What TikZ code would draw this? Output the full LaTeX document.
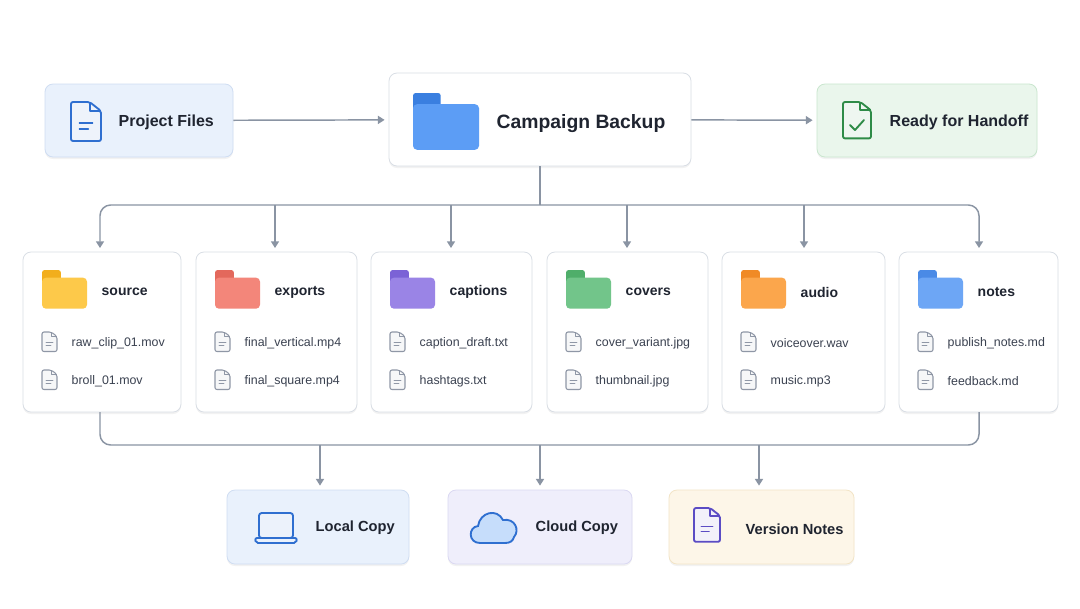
\documentclass[tikz,border=0pt]{standalone}
\usepackage{fontspec}
\setmainfont{Liberation Sans}
\usetikzlibrary{fit,shadows,arrows.meta}
\definecolor{line}{HTML}{8A94A3}
\definecolor{bord}{HTML}{D9DEE5}
\definecolor{txt}{HTML}{1F2430}
\definecolor{ftxt}{HTML}{3A4150}
\definecolor{gic}{HTML}{8F97A6}
\definecolor{bico}{HTML}{2F6FD0}
\definecolor{pfbg}{HTML}{E9F1FC}
\definecolor{pfbd}{HTML}{CFDDF2}
\definecolor{rhbg}{HTML}{EAF6EC}
\definecolor{rhbd}{HTML}{C9E6CE}
\definecolor{gico}{HTML}{2E8B47}
\definecolor{ccbg}{HTML}{EFEEFB}
\definecolor{ccbd}{HTML}{DAD8F2}
\definecolor{vnbg}{HTML}{FDF6E8}
\definecolor{vnbd}{HTML}{F2E4C6}
\definecolor{pico}{HTML}{5B4CC4}
\definecolor{cbl}{HTML}{5C9DF5}\definecolor{cbd}{HTML}{3A7FE0}
\definecolor{yl}{HTML}{FDC94A}\definecolor{yd}{HTML}{F2AE1C}
\definecolor{rl}{HTML}{F3867A}\definecolor{rd}{HTML}{E3685C}
\definecolor{vl}{HTML}{9A84E6}\definecolor{vd}{HTML}{7B62D6}
\definecolor{gl}{HTML}{72C58A}\definecolor{gd}{HTML}{4FAE6A}
\definecolor{ol}{HTML}{FBA64C}\definecolor{od}{HTML}{F08A26}
\definecolor{nl}{HTML}{6DA6F5}\definecolor{nd}{HTML}{4A8AE6}
\tikzset{
  box/.style={draw=bord, line width=0.6pt, rounded corners=6pt, inner sep=0pt,
    drop shadow={opacity=0.10, shadow xshift=0pt, shadow yshift=-1.5pt}},
  conn/.style={draw=line, line width=1.1pt, rounded corners=8pt},
  arr/.style={conn, -{Triangle[length=5pt,width=6pt]}, shorten >=3pt},
  title/.style={anchor=west, font=\bfseries\fontsize{12}{14}\selectfont, text=txt},
  btitle/.style={anchor=west, font=\bfseries\fontsize{11}{13}\selectfont, text=txt},
  ctitle/.style={anchor=west, font=\bfseries\fontsize{10.5}{12}\selectfont, text=txt},
  ftext/.style={anchor=west, font=\fontsize{9.3}{11}\selectfont, text=ftxt},
}
\newcommand{\myfolder}[5]{% x y w light dark
  \begin{scope}[shift={(#1,#2)}]
    \fill[#5, rounded corners=2pt] (0,0) rectangle (0.42*#3,0.35*#3);
    \fill[#4, rounded corners=3pt] (0,0.17*#3) rectangle (#3,0.86*#3);
  \end{scope}}
\newcommand{\mydoc}[5]{% x y w lw color
  \begin{scope}[shift={(#1,#2)}]
    \draw[#5, line width=#4, line join=round, fill=#5!8, rounded corners=1.5pt] (0,0) -- (0.62*#3,0) -- (#3,0.3*#3) -- (#3,1.3*#3) -- (0,1.3*#3) -- cycle;
    \draw[#5, line width=#4, line join=round] (0.62*#3,0) -- (0.62*#3,0.3*#3) -- (#3,0.3*#3);
  \end{scope}}
\newcommand{\mylines}[4]{% x y w color
  \begin{scope}[shift={(#1,#2)}]
    \draw[#4, line width=1pt, line cap=round] (0.28*#3,0.7*#3) -- (0.72*#3,0.7*#3) (0.28*#3,0.9*#3) -- (0.58*#3,0.9*#3);
  \end{scope}}
\newcommand{\mycard}[9]{% id x0 x1 light dark title f1 f2 midx
  \node[box, fill=white, fit={(#2,252) (#3,412)}] (#1) {};
  \coordinate (#1top) at (#9,252);
  \myfolder{#2+19}{270}{45}{#4}{#5}
  \node[ctitle] at (#2+74,292) {#6};
  \mydoc{#2+19}{332}{15}{0.8pt}{gic}\mylines{#2+19}{332}{15}{gic}
  \node[ftext] at (#2+44,343) {#7};
  \mydoc{#2+19}{370}{15}{0.8pt}{gic}\mylines{#2+19}{370}{15}{gic}
  \node[ftext] at (#2+44,381) {#8};
}
\begin{document}
\begin{tikzpicture}[x=0.75pt,y=-0.75pt]
\useasboundingbox[fill=white] (0,0) rectangle (1080,608);
% top row
\node[box, fill=pfbg, draw=pfbd, fit={(45,84) (233,157)}] (pf) {};
\mydoc{71}{102}{30}{1.4pt}{bico}\mylines{71}{102}{30}{bico}
\node[title] at (114,122) {Project Files};
\node[box, fill=white, fit={(389,73) (691,166)}] (cb) {};
\myfolder{413}{93}{66}{cbl}{cbd}
\node[title, font=\bfseries\fontsize{14.5}{17}\selectfont] at (492,124) {Campaign Backup};
\node[box, fill=rhbg, draw=rhbd, fit={(817,84) (1037,157)}] (rh) {};
\mydoc{843}{102}{28}{1.4pt}{gico}
\draw[gico, line width=1.4pt, line cap=round, line join=round] (850,125) -- (855,130) -- (864,120);
\node[title] at (885,122) {Ready for Handoff};
\draw[arr] (pf) -- (cb);
\draw[arr] (cb) -- (rh);
% cards
\mycard{c1}{23}{181}{yl}{yd}{source}{raw\_clip\_01.mov}{broll\_01.mov}{100}
\mycard{c2}{196}{357}{rl}{rd}{exports}{final\_vertical.mp4}{final\_square.mp4}{275}
\mycard{c3}{371}{532}{vl}{vd}{captions}{caption\_draft.txt}{hashtags.txt}{451}
\mycard{c4}{547}{708}{gl}{gd}{covers}{cover\_variant.jpg}{thumbnail.jpg}{627}
\mycard{c5}{722}{885}{ol}{od}{audio}{voiceover.wav}{music.mp3}{804}
\mycard{c6}{899}{1058}{nl}{nd}{notes}{publish\_notes.md}{feedback.md}{979}
% fan-out
\coordinate (hub) at (540,205);
\draw[conn] (cb.south) -- (hub);
\draw[arr] (hub) -| (c1top);
\draw[arr] (hub) -| (c6top);
\foreach \c/\xx in {c2/275,c3/451,c4/627,c5/804}{
  \draw[arr] (\xx,205) -- (\c top);
}
% bottom row
\node[box, fill=pfbg, draw=pfbd, fit={(227,490) (409,564)}] (lc) {};
\node[box, fill=ccbg, draw=ccbd, fit={(448,490) (632,564)}] (cc) {};
\node[box, fill=vnbg, draw=vnbd, fit={(669,490) (854,564)}] (vn) {};
\coordinate (b1) at (100,412); \coordinate (b2) at (979,412);
\coordinate (bus) at (540,445);
\draw[conn] (b1) |- (bus) -| (b2);
\draw[arr] (320,445) -- (lc.north -| 320,445);
\draw[arr] (bus) -- (cc);
\draw[arr] (759,445) -- (vn.north -| 759,445);
% laptop
\draw[bico, line width=1.4pt, fill=pfbg!60!bico!20, rounded corners=2pt] (259,513) rectangle (293,538);
\draw[bico, line width=1.4pt, fill=pfbg, rounded corners=1.5pt] (255,538) -- (297,538) -- (296,543) -- (256,543) -- cycle;
\node[btitle] at (311,528) {Local Copy};
% cloud
\draw[bico, line width=1.4pt, fill=cbl!35]
  (480,543) .. controls (468,543) and (468,527) .. (478,526)
  .. controls (480,512) and (497,508) .. (503,520)
  .. controls (515,518) and (520,530) .. (514,537)
  .. controls (513,541) and (510,543) .. (505,543) -- cycle;
\node[btitle] at (531,528) {Cloud Copy};
% version notes doc
\mydoc{694}{508}{26}{1.4pt}{pico}\mylines{694}{508}{26}{pico}
\node[btitle] at (741,529) {Version Notes};
\end{tikzpicture}
\end{document}
